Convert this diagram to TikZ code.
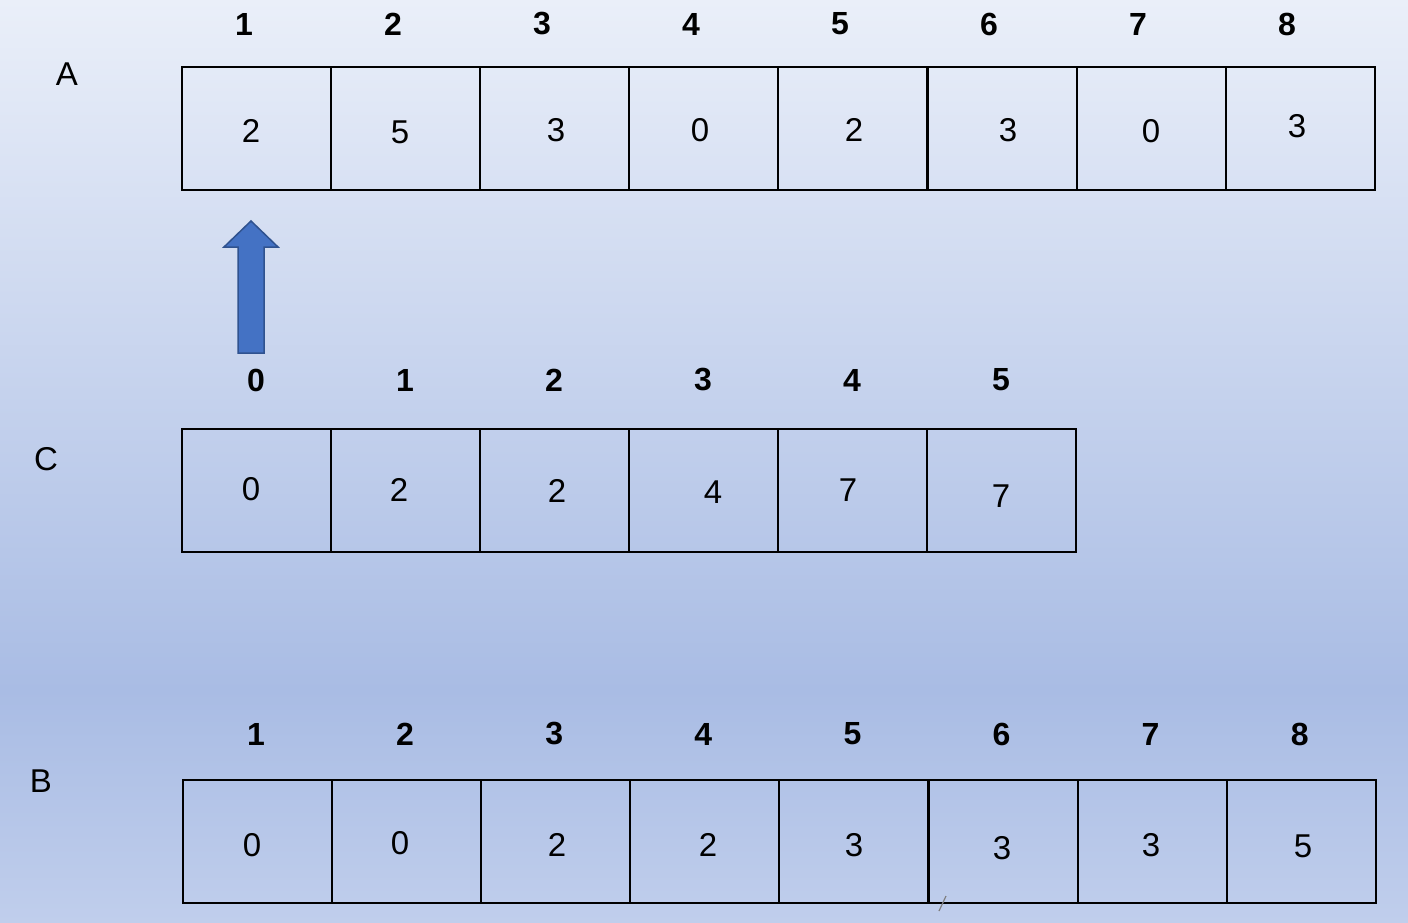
\documentclass[tikz,border=0pt]{standalone}
\usepackage{fontspec}
\setmainfont{Liberation Sans}
\definecolor{bgtop}{RGB}{234,239,249}
\definecolor{bgmid}{RGB}{169,188,228}
\definecolor{bgbot}{RGB}{192,206,236}
\definecolor{arrowfill}{RGB}{68,114,196}
\definecolor{arrowdraw}{RGB}{47,82,143}
\tikzset{
  cell/.style={draw=black, line width=2pt, minimum width=149pt, minimum height=123pt, inner sep=0pt, outer sep=0pt},
  val/.style={font=\fontsize{33}{36}\selectfont, inner sep=0pt},
  hdr/.style={font=\bfseries\fontsize{32}{36}\selectfont, inner sep=0pt},
  rowlbl/.style={font=\fontsize{33}{36}\selectfont, inner sep=0pt},
}
\begin{document}
\begin{tikzpicture}[x=1pt,y=-1pt]
\useasboundingbox (0,0) rectangle (1408,923);
\shade[top color=bgtop, bottom color=bgmid] (0,0) rectangle (1408,690);
\shade[top color=bgmid, bottom color=bgbot] (0,689.5) rectangle (1408,923);

% Row A
\foreach \i/\v/\vx/\vy/\hx in {1/2/251/131/244, 2/5/400/132/393, 3/3/556/130/542, 4/0/700/130/691, 5/2/854/130/840, 6/3/1008/130/989, 7/0/1151/131/1138, 8/3/1297/126/1287}{
  \node[cell] (a\i) at ({182+149.1*(\i-1)+74.55},128.5) {};
  \node[val] (av\i) at (\vx,\vy) {\v};
  \node[hdr] (ah\i) at (\hx,24) {\i};
}
\node[rowlbl] (la) at (67,74) {A};

% Row C
\foreach \i/\v/\vx/\vy in {0/0/251/489, 1/2/399/490, 2/2/557/491, 3/4/713/492, 4/7/848/490, 5/7/1001/496}{
  \node[cell] (c\i) at ({182+149*\i+74.5},490.5) {};
  \node[val] (cv\i) at (\vx,\vy) {\v};
  \node[hdr] (ch\i) at ({256+149*\i},380) {\i};
}
\node[rowlbl] (lc) at (46,459) {C};

% Row B
\foreach \i/\v/\vx/\vy in {1/0/252/845, 2/0/400/843, 3/2/557/845, 4/2/708/845, 5/3/854/845, 6/3/1002/848, 7/3/1151/845, 8/5/1303/846}{
  \node[cell] (b\i) at ({183+149.1*(\i-1)+74.55},841.5) {};
  \node[val] (bv\i) at (\vx,\vy) {\v};
  \node[hdr] (bh\i) at ({256+149.1*(\i-1)},734) {\i};
}
\node[rowlbl] (lb) at (41,781) {B};

% block arrow
\draw[fill=arrowfill, draw=arrowdraw, line width=1.5pt, line join=miter]
  (238,353) -- (238,247) -- (224,247) -- (251,221) -- (278,247) -- (264,247) -- (264,353) -- cycle;

% small mark
\draw[gray, line width=1.2pt] (939,911) -- (946,896);
\end{tikzpicture}
\end{document}
